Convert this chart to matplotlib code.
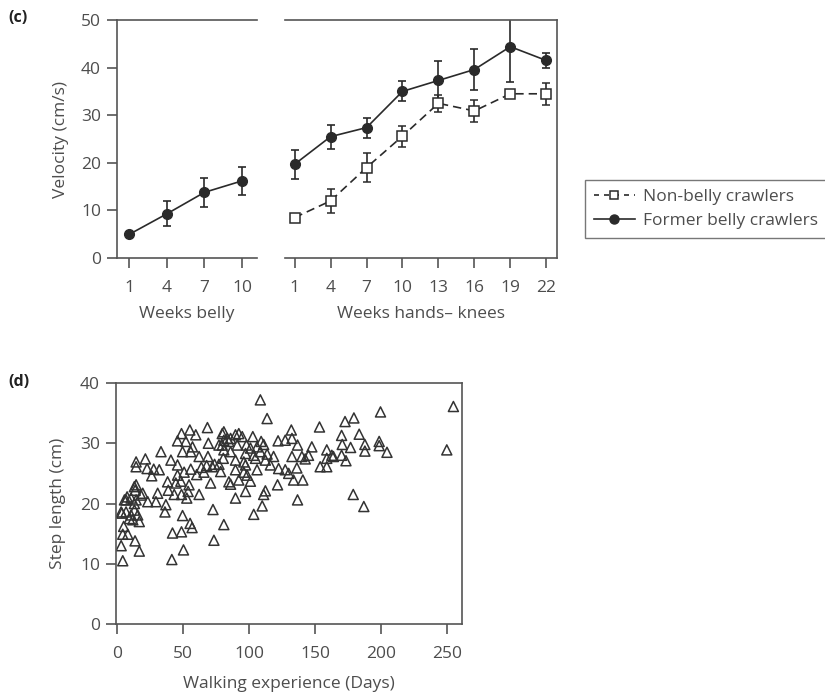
import numpy as np
import matplotlib.pyplot as plt
from matplotlib.lines import Line2D

plt.rcParams['font.family'] = ['Open Sans', 'DejaVu Sans']

# panel (c) data
weeks_belly = [1, 4, 7, 10]
belly_vel = [5.0, 9.3, 13.8, 16.2]
belly_err = [0, 2.6, 3.0, 3.0]

weeks_hk = [1, 4, 7, 10, 13, 16, 19, 22]
former_vel = [19.7, 25.5, 27.4, 35.0, 37.3, 39.6, 44.4, 41.5]
former_err = [3.0, 2.5, 2.1, 2.1, 4.1, 4.4, 7.5, 1.5]
nonbelly_vel = [8.5, 12.0, 19.0, 25.6, 32.5, 30.9, 34.5, 34.5]
nonbelly_err = [0, 2.5, 3.0, 2.2, 1.8, 2.4, 0, 2.3]

# panel (d) data: walking experience (days), step length (cm)
walk_days = [
    3.4, 7.1, 10.9, 13.4, 15.9, 17.1, 12.2, 9.6, 3.9,
    7.1, 10.9, 13.4, 14.7, 18.4, 13.4, 19.7, 5.9, 7.9,
    4.6, 17.1, 3.4, 13.9, 4.6, 8.4, 5.3, 14.0, 14.7,
    14.7, 14.7, 21.7, 23.0, 28.0, 32.2, 26.5, 33.5, 41.0,
    23.5, 29.7, 37.2, 36.5, 31.0, 39.0, 43.5, 49.0, 54.0, 62.3, 53.0,
    38.5, 44.7, 48.5, 54.7, 71.0, 46.0, 46.0,
    51.0, 56.0, 60.5, 66.0, 72.3, 77.3, 78.6,
    49.8, 56.0, 62.3, 69.0, 64.0, 68.0, 74.0,
    68.6, 55.3, 49.0, 59.8, 46.0, 52.3, 57.3, 69.3, 79.8, 79.8,
    77.3, 81.0, 80.6, 86.1, 89.8,
    72.8, 49.8, 81.0, 55.5, 57.0, 42.2, 49.0, 73.5, 50.5, 41.7,
    108.6, 113.7, 153.3, 132.0, 81.0, 92.3, 94.9, 102.9, 83.6, 84.8,
    109.2, 111.1, 122.0, 127.4, 132.5, 136.7, 91.1, 98.1, 101.1, 106.1,
    147.5, 158.8, 81.0, 86.1, 97.4, 103.6, 108.6, 113.7, 118.6, 132.5,
    140.0, 145.0, 142.5, 158.8, 162.6, 153.8, 158.8, 89.8, 96.1, 104.9,
    112.4, 89.8, 97.4, 106.1, 116.2, 122.4, 127.4, 130.0, 136.2, 98.6,
    96.1, 84.8, 86.1, 92.3, 101.1, 133.7, 140.7, 121.6, 97.4, 112.4,
    111.1, 89.8, 136.7, 110.0, 103.6,
    254.5, 249.5, 199.4, 172.6, 179.3, 170.0, 183.3, 170.5, 176.8, 187.6,
    187.6, 198.4, 198.4, 204.3, 163.8, 170.0, 173.3, 178.8, 186.8,
]
step_len = [
    18.6, 18.6, 18.1, 18.9, 18.1, 17.0, 17.3, 17.5, 18.4,
    20.6, 20.9, 20.0, 20.6, 21.4, 22.8, 21.7, 20.6, 21.1,
    10.5, 12.1, 13.0, 13.8, 14.9, 14.9, 16.2, 22.2, 23.1,
    26.9, 26.1, 27.4, 25.8, 25.7, 25.6, 24.6, 28.6, 27.2,
    20.3, 20.3, 19.8, 18.6, 21.7, 22.2, 21.5, 21.5, 22.0, 21.5, 20.9,
    23.6, 23.4, 23.7, 23.1, 23.4, 24.7, 26.4,
    25.2, 25.7, 24.8, 25.2, 26.1, 26.5, 25.3,
    28.6, 28.6, 27.8, 27.8, 26.0, 26.3, 26.5,
    32.6, 32.2, 31.6, 31.4, 30.4, 30.3, 29.4, 30.0, 31.6, 29.7,
    29.7, 30.5, 27.5, 30.8, 31.4,
    19.0, 18.0, 16.5, 16.7, 16.0, 15.1, 15.3, 13.9, 12.3, 10.7,
    37.2, 34.1, 32.7, 32.2, 31.9, 31.6, 31.1, 31.1, 30.8, 30.3,
    30.3, 29.8, 30.4, 30.5, 30.8, 29.7, 29.7, 29.7, 29.2, 29.4,
    29.4, 28.9, 28.9, 28.6, 28.3, 28.0, 28.6, 28.2, 27.8, 27.8,
    27.8, 28.0, 27.4, 27.5, 28.0, 26.1, 26.1, 27.2, 26.9, 27.5,
    27.2, 25.6, 26.4, 25.6, 26.4, 25.8, 25.6, 25.0, 25.9, 24.7,
    25.2, 23.6, 23.2, 23.9, 23.7, 23.9, 23.9, 23.1, 22.0, 22.1,
    21.5, 20.9, 20.6, 19.6, 18.2,
    36.1, 28.9, 35.2, 33.6, 34.2, 31.3, 31.5, 29.8, 29.3, 29.8,
    28.7, 30.3, 29.6, 28.5, 27.8, 28.0, 27.1, 21.5, 19.5,
]

ink = '#2a2a2a'
axcol = '#555555'
txt = '#4d4d4d'
fs = 12.5

fig = plt.figure(figsize=(8.25, 6.97), dpi=100)

def style(ax):
    for s in ax.spines.values():
        s.set_color(axcol)
        s.set_linewidth(1.2)
    ax.tick_params(direction='out', length=7.5, width=1.2, color=axcol,
                   labelsize=fs, labelcolor=txt)
    ax.tick_params(axis='x', pad=8.5)
    ax.tick_params(axis='y', pad=4)

# (c) left: weeks belly
ax1 = fig.add_axes([0.1418, 0.6298, 0.1697, 0.3415])
ax1.errorbar(weeks_belly, belly_vel, yerr=belly_err, fmt='-o', color=ink,
             ms=7, lw=1.2, elinewidth=1.2, capsize=3, capthick=1.2)
ax1.set_xlim(0, 11.2)
ax1.set_ylim(0, 50)
ax1.set_xticks(weeks_belly)
ax1.set_yticks([0, 10, 20, 30, 40, 50])
ax1.spines['right'].set_visible(False)
style(ax1)
ax1.set_xlabel('Weeks belly', fontsize=fs, color=txt, labelpad=7)
ax1.set_ylabel('Velocity (cm/s)', fontsize=fs, color=txt, labelpad=9)

# (c) right: weeks hands-knees
ax2 = fig.add_axes([0.3455, 0.6298, 0.3297, 0.3415])
ax2.errorbar(weeks_hk, nonbelly_vel, yerr=nonbelly_err, fmt='s', color=ink,
             mfc='white', ms=6.5, mew=1.1, ls=(0, (5, 3)), lw=1.2,
             elinewidth=1.2, capsize=3, capthick=1.2)
ax2.errorbar(weeks_hk, former_vel, yerr=former_err, fmt='-o', color=ink,
             ms=7, lw=1.2, elinewidth=1.2, capsize=3, capthick=1.2)
ax2.set_xlim(0.2, 22.9)
ax2.set_ylim(0, 50)
ax2.set_xticks(weeks_hk)
ax2.spines['left'].set_visible(False)
style(ax2)
ax2.tick_params(left=False, labelleft=False)
ax2.set_xlabel('Weeks hands\u2013 knees', fontsize=fs, color=txt, labelpad=7)

handles = [
    Line2D([], [], color=ink, marker='s', mfc='white', ms=6, mew=1.1,
           ls=(0, (3, 3)), lw=1.2),
    Line2D([], [], color=ink, marker='o', ms=6.5, lw=1.2),
]
leg = fig.legend(handles, ['Non-belly crawlers', 'Former belly crawlers'],
                 loc='upper left', bbox_to_anchor=(0.709, 0.742),
                 fontsize=fs, frameon=True, fancybox=False, handlelength=2.4,
                 borderpad=0.5, labelspacing=0.5, handletextpad=0.45,
                 borderaxespad=0)
leg.get_frame().set_edgecolor(axcol)
leg.get_frame().set_linewidth(1.0)
for t in leg.get_texts():
    t.set_color(txt)

fig.text(0.01, 0.985, '(c)', fontsize=11.5, fontweight='bold',
         color='#222222', va='top')

# (d) scatter
ax3 = fig.add_axes([0.1406, 0.1047, 0.4194, 0.3458])
ax3.scatter(walk_days, step_len, marker='^', s=52, facecolors='none',
            edgecolors='#333333', linewidths=1.1)
ax3.set_xlim(-0.5, 261)
ax3.set_ylim(0, 40)
ax3.set_xticks([0, 50, 100, 150, 200, 250])
ax3.set_yticks([0, 10, 20, 30, 40])
style(ax3)
ax3.set_xlabel('Walking experience (Days)', fontsize=fs, color=txt,
               labelpad=10)
ax3.set_ylabel('Step length (cm)', fontsize=fs, color=txt, labelpad=10)

fig.text(0.01, 0.463, '(d)', fontsize=11.5, fontweight='bold',
         color='#222222', va='top')

fig.savefig('out.png', dpi=100, facecolor='white')
